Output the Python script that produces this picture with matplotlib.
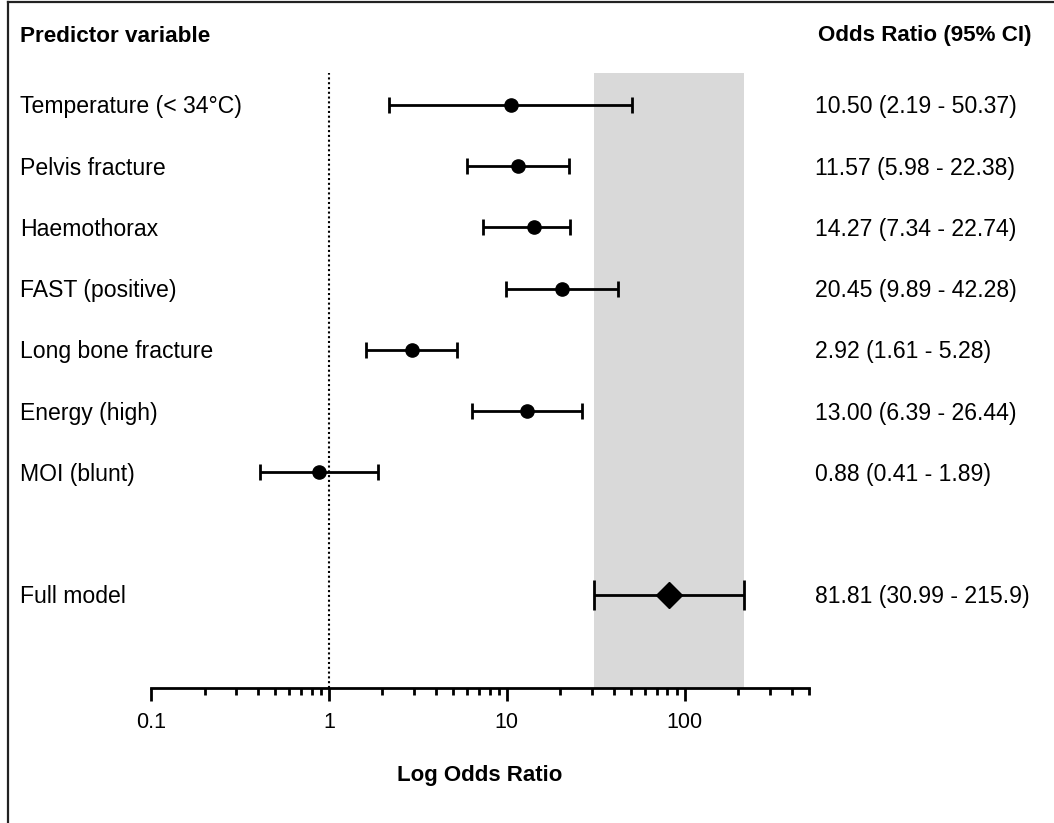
import matplotlib
matplotlib.use("Agg")
import matplotlib.pyplot as plt
import matplotlib.transforms as mtransforms
from matplotlib.ticker import LogLocator, NullFormatter, FixedLocator, FixedFormatter
import numpy as np

plt.rcParams['font.family'] = ['Liberation Sans', 'DejaVu Sans']

# Predictors and their odds ratios with 95% confidence intervals
predictors = ["Temperature (< 34\u00b0C)", "Pelvis fracture", "Haemothorax",
              "FAST (positive)", "Long bone fracture", "Energy (high)", "MOI (blunt)"]
odds_ratio = [10.50, 11.57, 14.27, 20.45, 2.92, 13.00, 0.88]
ci_low = [2.19, 5.98, 7.34, 9.89, 1.61, 6.39, 0.41]
ci_high = [50.37, 22.38, 22.74, 42.28, 5.28, 26.44, 1.89]
ci_labels = ["10.50 (2.19 - 50.37)", "11.57 (5.98 - 22.38)", "14.27 (7.34 - 22.74)",
             "20.45 (9.89 - 42.28)", "2.92 (1.61 - 5.28)", "13.00 (6.39 - 26.44)",
             "0.88 (0.41 - 1.89)"]

model_label = "Full model"
model_or = 81.81
model_low = 30.99
model_high = 215.9
model_text = "81.81 (30.99 - 215.9)"

tick_values = [0.1, 1, 10, 100]
tick_labels = ["0.1", "1", "10", "100"]

W, H = 1054, 823
fig = plt.figure(figsize=(W / 100, H / 100), dpi=100)

def px(x0, y0, x1, y1):
    return [x0 / W, 1 - y1 / H, (x1 - x0) / W, (y1 - y0) / H]

ax = fig.add_axes(px(151, 73, 809, 688))
ax.set_xscale('log')
ax.set_xlim(0.1, 500)
ax.set_ylim(9.52, -0.52)

rows = np.arange(len(predictors))
model_row = len(predictors) + 1

# shaded band for the full-model confidence interval
ax.axvspan(model_low, model_high, color='#d9d9d9', lw=0, zorder=0)
# line of no effect
ax.axvline(1, color='black', lw=1.5, linestyle=(0, (1, 1.3)), zorder=1)

lo = np.array(odds_ratio) - np.array(ci_low)
hi = np.array(ci_high) - np.array(odds_ratio)
ax.errorbar(odds_ratio, rows, xerr=[lo, hi], fmt='o', color='black', ms=9.5,
            elinewidth=2, capsize=5.5, capthick=2, zorder=3)
ax.errorbar([model_or], [model_row], xerr=[[model_or - model_low], [model_high - model_or]],
            fmt='D', color='black', ms=13, elinewidth=2, capsize=11, capthick=2, zorder=3)

for s in ['top', 'right', 'left']:
    ax.spines[s].set_visible(False)
ax.spines['bottom'].set_linewidth(2)
ax.set_yticks([])
ax.xaxis.set_major_locator(FixedLocator(tick_values))
ax.xaxis.set_major_formatter(FixedFormatter(tick_labels))
ax.xaxis.set_minor_locator(LogLocator(base=10, subs=np.arange(2, 10), numticks=20))
ax.xaxis.set_minor_formatter(NullFormatter())
ax.tick_params(axis='x', which='major', length=9, width=2, labelsize=15.5, pad=8)
ax.tick_params(axis='x', which='minor', length=5, width=2)
ax.set_facecolor('none')

ax.set_xlabel("Log Odds Ratio", fontsize=16, fontweight='bold', labelpad=23)

# row labels on the left and interval text on the right
fs = 16.6
trans = mtransforms.blended_transform_factory(fig.transFigure, ax.transData)
trans = trans + mtransforms.ScaledTranslation(0, -2 / 100, fig.dpi_scale_trans)
for r, name, txt in zip(rows, predictors, ci_labels):
    fig.text(20 / W, r, name, transform=trans, fontsize=fs, va='center', ha='left')
    fig.text(815 / W, r, txt, transform=trans, fontsize=fs, va='center', ha='left')
fig.text(20 / W, model_row, model_label, transform=trans, fontsize=fs, va='center', ha='left')
fig.text(815 / W, model_row, model_text, transform=trans, fontsize=fs, va='center', ha='left')

fig.text(20 / W, 1 - 36 / H, "Predictor variable", fontsize=16.2, fontweight='bold', va='center', ha='left')
fig.text(818 / W, 1 - 36 / H, "Odds Ratio (95% CI)", fontsize=16.1, fontweight='bold', va='center', ha='left')

# frame along the top and left edges
fig.add_artist(plt.Line2D([8 / W, 1], [1 - 2 / H, 1 - 2 / H], transform=fig.transFigure, color='#222222', lw=1.6))
fig.add_artist(plt.Line2D([8 / W, 8 / W], [0, 1 - 2 / H], transform=fig.transFigure, color='#222222', lw=1.6))

fig.savefig("out.png", dpi=100)
